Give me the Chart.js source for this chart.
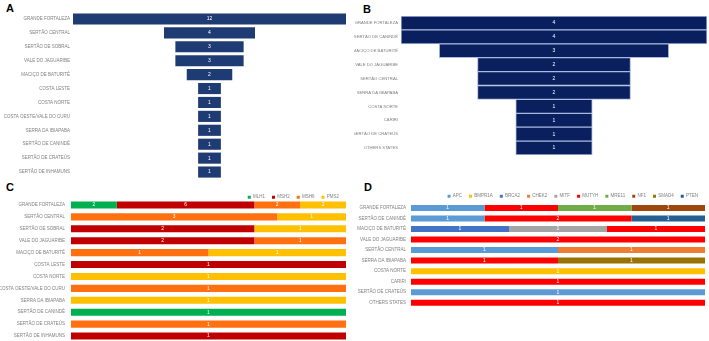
<!DOCTYPE html>
<html>
<head>
<meta charset="utf-8">
<script src="https://cdn.jsdelivr.net/npm/chart.js@4.4.1/dist/chart.umd.min.js"></script>
<style>
  body { margin: 0; background: #fff; width: 709px; height: 341px; overflow: hidden; position: relative; }
  canvas { position: absolute; }
  .tag { position: absolute; font: bold 11px "Liberation Sans", Arial, sans-serif; color: #000; }
</style>
</head>
<body>
<div class="tag" style="left:6px;top:2px">A</div>
<div class="tag" style="left:363px;top:3px">B</div>
<div class="tag" style="left:6px;top:181px">C</div>
<div class="tag" style="left:364px;top:181px">D</div>
<canvas id="chartA" width="355" height="190" style="left:0;top:0"></canvas>
<canvas id="chartB" width="355" height="170" style="left:354px;top:0"></canvas>
<canvas id="chartC" width="355" height="175" style="left:0;top:180px"></canvas>
<canvas id="chartD" width="355" height="161" style="left:354px;top:180px"></canvas>
<script>
// A - regiões (MMR)
const regionsA = ['GRANDE FORTALEZA', 'SERTÃO CENTRAL', 'SERTÃO DE SOBRAL', 'VALE DO JAGUARIBE', 'MACIÇO DE BATURITÉ',
  'COSTA LESTE', 'COSTA NORTE', 'COSTA OESTE/VALE DO CURU', 'SERRA DA IBIAPABA', 'SERTÃO DE CANINDÉ',
  'SERTÃO DE CRATEÚS', 'SERTÃO DE INHAMUNS'];
const countsA = [12, 4, 3, 3, 2, 1, 1, 1, 1, 1, 1, 1];

// B - regiões (outros genes)
const regionsB = ['GRANDE FORTALEZA', 'SERTÃO DE CANINDÉ', 'MACIÇO DE BATURITÉ', 'VALE DO JAGUARIBE', 'SERTÃO CENTRAL',
  'SERRA DA IBIAPABA', 'COSTA NORTE', 'CARIRI', 'SERTÃO DE CRATEÚS', 'OTHERS STATES'];
const countsB = [4, 4, 3, 2, 2, 2, 1, 1, 1, 1];

// C - genes MMR por região (mesma ordem de regionsA)
const genesC = ['MLH1', 'MSH2', 'MSH6', 'PMS2'];
const mlh1 = [2, 0, 0, 0, 0, 0, 0, 0, 0, 1, 0, 0];
const msh2 = [6, 0, 2, 2, 0, 1, 0, 0, 0, 0, 0, 1];
const msh6 = [2, 3, 0, 1, 1, 0, 0, 1, 0, 0, 1, 0];
const pms2 = [2, 1, 1, 0, 1, 0, 1, 0, 1, 0, 0, 0];
const colorsC = ['#00b050', '#c00000', '#ff7010', '#ffc000'];

// D - outros genes por região (mesma ordem de regionsB)
const genesD = ['APC', 'BMPR1A', 'BRCA2', 'CHEK2', 'MITF', 'MUTYH', 'MRE11', 'NF1', 'SMAD4', 'PTEN'];
const apc    = [1, 1, 0, 0, 1, 0, 0, 0, 1, 0];
const bmpr1a = [0, 0, 0, 0, 0, 0, 1, 0, 0, 0];
const brca2  = [0, 0, 1, 0, 0, 0, 0, 0, 0, 0];
const chek2  = [0, 0, 0, 0, 1, 0, 0, 0, 0, 0];
const mitf   = [0, 0, 1, 0, 0, 0, 0, 0, 0, 0];
const mutyh  = [1, 2, 1, 2, 0, 1, 0, 1, 0, 1];
const mre11  = [1, 0, 0, 0, 0, 0, 0, 0, 0, 0];
const nf1    = [1, 0, 0, 0, 0, 0, 0, 0, 0, 0];
const smad4  = [0, 0, 0, 0, 0, 1, 0, 0, 0, 0];
const pten   = [0, 1, 0, 0, 0, 0, 0, 0, 0, 0];
const colorsD = ['#5b9bd5', '#ffc000', '#4472c4', '#ed7d31', '#a5a5a5', '#ff0000', '#70ad47', '#9e480e', '#997300', '#255e91'];

const FONT = '"Liberation Sans", Arial, sans-serif';
Chart.defaults.font.family = FONT;
Chart.defaults.animation = false;

// escreve o valor no meio de cada barra
function valueLabels(getValue) {
  return {
    id: 'valueLabels',
    afterDatasetsDraw(chart) {
      const ctx = chart.ctx;
      ctx.save();
      ctx.fillStyle = '#ffffff';
      ctx.font = '5px ' + FONT;
      ctx.textAlign = 'center';
      ctx.textBaseline = 'middle';
      chart.data.datasets.forEach((ds, di) => {
        chart.getDatasetMeta(di).data.forEach((bar, i) => {
          const v = getValue(di, i);
          if (!v) return;
          const p = bar.getCenterPoint();
          ctx.fillText(v, p.x, p.y);
        });
      });
      ctx.restore();
    }
  };
}

function yAxis(width, pad, size) {
  return {
    grid: { display: false, drawTicks: false },
    border: { display: false },
    ticks: { color: '#7f7f7f', font: { size: size || 4.5 }, padding: pad, autoSkip: false },
    afterFit(scale) { scale.width = width; }
  };
}

function funnel(id, labels, counts, color, border, barPct, pad, yWidth, fontSize) {
  const half = Math.max(...counts) / 2;
  return new Chart(document.getElementById(id), {
    type: 'bar',
    data: {
      labels: labels,
      datasets: [{
        data: counts.map(v => [-v / 2, v / 2]),
        backgroundColor: color,
        borderColor: border,
        borderWidth: border ? 1 : 0,
        borderSkipped: false,
        barPercentage: barPct,
        categoryPercentage: 1
      }]
    },
    options: {
      indexAxis: 'y',
      responsive: false,
      devicePixelRatio: 1,
      layout: { padding: pad },
      plugins: { legend: { display: false }, tooltip: { enabled: false } },
      scales: {
        x: { display: false, min: -half, max: half },
        y: yAxis(yWidth, 3, fontSize)
      }
    },
    plugins: [valueLabels((di, i) => counts[i])]
  });
}

funnel('chartA', regionsA, countsA, '#1f3b73', null, 0.8, { top: 12, bottom: 11, right: 9 }, 73, 4.5);
funnel('chartB', regionsB, countsB, '#0a1f5e', '#a9bbe0', 1, { top: 16, bottom: 15, right: 2 }, 47, 4.2);

function stacked100(id, labels, genes, series, colors, barPct, pad, yWidth, tickPad, legendPad, legendH) {
  const totals = labels.map((_, i) => series.reduce((s, arr) => s + arr[i], 0));
  const chart = new Chart(document.getElementById(id), {
    type: 'bar',
    data: {
      labels: labels,
      datasets: genes.map((g, k) => ({
        label: g,
        data: series[k].map((v, i) => v / totals[i] * 100),
        backgroundColor: colors[k],
        borderWidth: 0,
        barPercentage: barPct,
        categoryPercentage: 1
      }))
    },
    options: {
      indexAxis: 'y',
      responsive: false,
      devicePixelRatio: 1,
      layout: { padding: pad },
      plugins: {
        tooltip: { enabled: false },
        legend: {
          position: 'top',
          align: 'end',
          labels: { boxWidth: 3, boxHeight: 3, padding: legendPad, color: '#7f7f7f', font: { size: 4.5 } }
        }
      },
      scales: {
        x: { display: false, stacked: true, min: 0, max: 100 },
        y: Object.assign(yAxis(yWidth, tickPad), { stacked: true })
      }
    },
    plugins: [valueLabels((di, i) => series[di][i])]
  });
  // a legenda fica colada nas barras, como no original
  const lg = chart.legend;
  const proto = Object.getPrototypeOf(lg);
  lg.fit = function () { proto.fit.call(this); this.height = legendH; };
  chart.update();
  return chart;
}

stacked100('chartC', regionsA, genesC, [mlh1, msh2, msh6, pms2], colorsC, 0.6,
  { top: 8, bottom: 13, right: 9 }, 71, 6, 7, 11);
stacked100('chartD', regionsB, genesD, [apc, bmpr1a, brca2, chek2, mitf, mutyh, mre11, nf1, smad4, pten], colorsD, 0.57,
  { top: 7, bottom: 33, right: 4 }, 57, 5, 7, 15.7);
</script>
</body>
</html>
